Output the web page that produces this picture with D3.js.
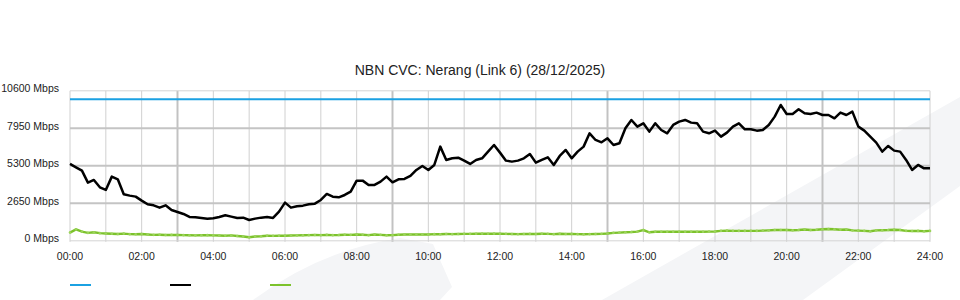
<!DOCTYPE html>
<html>
<head>
<meta charset="utf-8">
<script src="https://cdnjs.cloudflare.com/ajax/libs/d3/7.8.5/d3.min.js"></script>
<style>
  body { margin: 0; background: #fff; }
  svg { display: block; font-family: "Liberation Sans", Arial, sans-serif; }
</style>
</head>
<body>
<div id="chart"></div>
<script>
// Chart text
var chartTitle = "NBN CVC: Nerang (Link 6) (28/12/2025)";

// Axis ticks
var yTicks = [0, 2650, 5300, 7950, 10600];
var xTickHours = [0, 2, 4, 6, 8, 10, 12, 14, 16, 18, 20, 22, 24];
var xTickLabels = ["00:00", "02:00", "04:00", "06:00", "08:00", "10:00", "12:00",
                   "14:00", "16:00", "18:00", "20:00", "22:00", "24:00"];

// Samples every 10 minutes from 00:00 to 24:00 (Mbps)
var stepMinutes = 10;
var capacity = 10000;

var download = [
  5430, 5194, 4958, 4110, 4299, 3781, 3592, 4535, 4346, 3286, 3192, 3121,
  2839, 2579, 2509, 2344, 2509, 2179, 2038, 1896, 1684, 1661, 1614, 1566,
  1590, 1684, 1802, 1708, 1614, 1637, 1472, 1566, 1637, 1684, 1614, 2061,
  2697, 2344, 2438, 2485, 2579, 2626, 2886, 3310, 3121, 3074, 3239, 3474,
  4252, 4252, 3946, 3946, 4181, 4535, 4134, 4346, 4370, 4582, 5006, 5288,
  5006, 5359, 6655, 5712, 5830, 5877, 5665, 5430, 5712, 5830, 6301, 6772,
  6231, 5665, 5595, 5665, 5830, 6136, 5524, 5712, 5901, 5359, 5995, 6419,
  5830, 6301, 6655, 7597, 7126, 6961, 7243, 6772, 6890, 7950, 8539, 8068,
  8303, 7715, 8303, 7832, 7597, 8186, 8421, 8539, 8351, 8303, 7715, 7597,
  7785, 7361, 7644, 8068, 8303, 7880, 7880, 7785, 7832, 8186, 8775, 9599,
  8963, 8963, 9293, 9010, 8963, 9057, 8892, 8892, 8657, 9057, 8892, 9128,
  8068, 7785, 7361, 6937, 6301, 6702, 6372, 6301, 5712, 5006, 5359, 5123,
  5123
];

var upload = [
  580, 810, 650, 560, 600, 540, 520, 500, 480, 510, 470, 460,
  480, 450, 420, 430, 410, 420, 410, 400, 390, 380, 390, 400,
  380, 370, 360, 380, 340, 300, 250, 300, 320, 360, 350, 360,
  360, 370, 380, 390, 400, 410, 400, 420, 400, 410, 430, 420,
  440, 430, 400, 440, 420, 390, 400, 430, 440, 440, 440, 450,
  450, 470, 460, 480, 470, 480, 490, 490, 500, 510, 500, 510,
  500, 490, 480, 470, 480, 490, 480, 500, 490, 470, 500, 480,
  490, 470, 460, 470, 480, 490, 520, 560, 580, 600, 620, 650,
  760, 600, 640, 640, 640, 640, 640, 640, 640, 640, 640, 650,
  660, 700, 720, 700, 700, 700, 700, 700, 720, 740, 760, 760,
  760, 750, 760, 800, 760, 780, 820, 830, 820, 780, 800, 740,
  720, 700, 680, 740, 750, 760, 780, 760, 700, 690, 700, 680,
  700
];

var seriesColors = { capacity: "#1ba1e2", download: "#000000", upload: "#7cc22c" };

// SVG area
var svgWidth = 960;
var svgHeight = 300;
var plot = { left: 70, right: 930, top: 90.8, bottom: 240.8 };

var svg = d3.select("#chart")
  .append("svg")
  .attr("width", svgWidth)
  .attr("height", svgHeight);

// Background watermark shapes
svg.append("path")
  .attr("d", "M253,300 Q320,250 400,238 L433,244 L452,287 L440,300 Z")
  .attr("fill", "#f4f5f7");
svg.append("path")
  .attr("d", "M602,300 L960,97 L960,186 L803,300 Z")
  .attr("fill", "#f4f5f7");

// Scales
var x = d3.scaleLinear().domain([0, 24]).range([plot.left, plot.right]);
var y = d3.scaleLinear().domain([0, 10600]).range([plot.bottom, plot.top]);

var hourOf = function(i) { return i * stepMinutes / 60; };

// Vertical grid (hourly, darker every 6h from 03:00)
var grid = svg.append("g").attr("class", "grid");
d3.range(0, 25).forEach(function(h) {
  var strong = (h % 6 === 3);
  grid.append("line")
    .attr("x1", x(h)).attr("x2", x(h))
    .attr("y1", plot.top).attr("y2", plot.bottom + 1)
    .attr("stroke", strong ? "#c2c2c2" : "#d0d0d0")
    .attr("stroke-width", strong ? 2 : 1);
});

// Horizontal grid
yTicks.forEach(function(v) {
  var inner = (v !== 0 && v !== 10600);
  grid.append("line")
    .attr("x1", plot.left).attr("x2", plot.right)
    .attr("y1", y(v)).attr("y2", y(v))
    .attr("stroke", inner ? "#c4c4c4" : "#d4d4d4")
    .attr("stroke-width", inner ? 2 : 1);
});

// Y axis labels
svg.append("g")
  .selectAll("text")
  .data(yTicks)
  .enter()
  .append("text")
  .attr("x", 59)
  .attr("y", function(d) { return y(d) + 1.5; })
  .attr("text-anchor", "end")
  .attr("font-size", 10.5)
  .attr("fill", "#222")
  .text(function(d) { return d + " Mbps"; });

// X axis labels
svg.append("g")
  .selectAll("text")
  .data(xTickHours)
  .enter()
  .append("text")
  .attr("x", function(d) { return x(d); })
  .attr("y", 259.5)
  .attr("text-anchor", "middle")
  .attr("font-size", 10.5)
  .attr("fill", "#222")
  .text(function(d, i) { return xTickLabels[i]; });

// Title
svg.append("text")
  .attr("x", 480)
  .attr("y", 75)
  .attr("text-anchor", "middle")
  .attr("font-size", 14)
  .attr("fill", "#222")
  .text(chartTitle);

// Lines
var line = d3.line()
  .x(function(d, i) { return x(hourOf(i)); })
  .y(function(d) { return y(d); });

svg.append("line")
  .attr("x1", x(0)).attr("x2", x(24))
  .attr("y1", y(capacity)).attr("y2", y(capacity))
  .attr("stroke", seriesColors.capacity)
  .attr("stroke-width", 2);

svg.append("path")
  .datum(upload)
  .attr("d", line)
  .attr("fill", "none")
  .attr("stroke", seriesColors.upload)
  .attr("stroke-width", 2.4);

svg.append("g")
  .selectAll("circle")
  .data(upload)
  .enter()
  .append("circle")
  .attr("cx", function(d, i) { return x(hourOf(i)); })
  .attr("cy", function(d) { return y(d); })
  .attr("r", 1.3)
  .attr("fill", "#9bd45a");

svg.append("path")
  .datum(download)
  .attr("d", line)
  .attr("fill", "none")
  .attr("stroke", seriesColors.download)
  .attr("stroke-width", 2.5)
  .attr("stroke-linejoin", "round");

// Legend (swatches only)
var legend = [
  { x: 70, color: seriesColors.capacity },
  { x: 170, color: seriesColors.download },
  { x: 270, color: seriesColors.upload }
];
svg.append("g")
  .selectAll("line")
  .data(legend)
  .enter()
  .append("line")
  .attr("x1", function(d) { return d.x; })
  .attr("x2", function(d) { return d.x + 21; })
  .attr("y1", 285).attr("y2", 285)
  .attr("stroke", function(d) { return d.color; })
  .attr("stroke-width", 2);
</script>
</body>
</html>
